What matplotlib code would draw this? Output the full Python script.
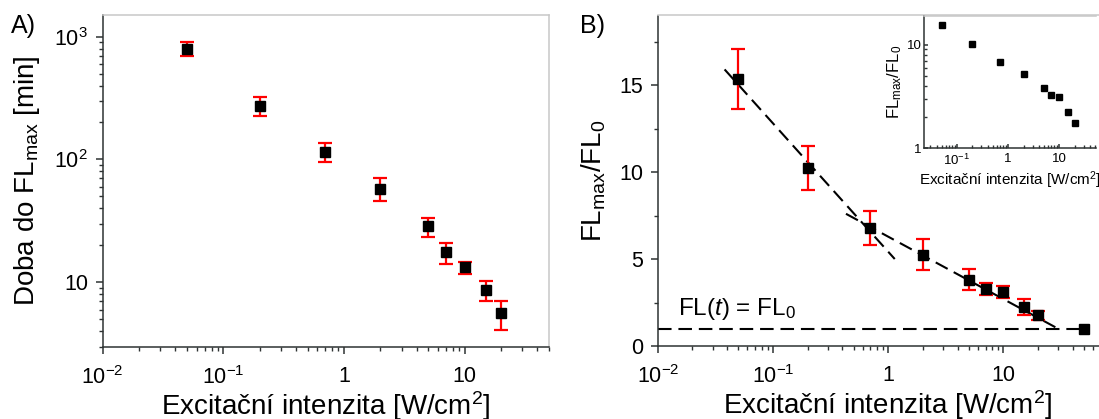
import math

import matplotlib
matplotlib.use("Agg")
import matplotlib.pyplot as plt
from matplotlib.ticker import FuncFormatter, LogLocator, MultipleLocator, NullFormatter

plt.rcParams['font.family'] = ['Liberation Sans', 'DejaVu Sans']
plt.rcParams['mathtext.fontset'] = 'custom'
plt.rcParams['mathtext.rm'] = 'Liberation Sans'
plt.rcParams['mathtext.it'] = 'Liberation Sans:italic'
plt.rcParams['mathtext.bf'] = 'Liberation Sans:bold'

# excitation intensities [W/cm2]
intensity = [0.05, 0.2, 0.7, 2, 5, 7, 10, 15, 20]

# A) time to reach FLmax [min]
t_max = [800, 272, 115, 58, 28.5, 17.5, 13.2, 8.6, 5.6]
t_max_err = [100, 48, 20, 12.5, 5, 3.3, 1.5, 1.6, 1.5]

# B) FLmax / FL0
ratio = [15.35, 10.23, 6.78, 5.25, 3.82, 3.27, 3.1, 2.24, 1.76]
ratio_err = [1.75, 1.25, 1.0, 0.9, 0.62, 0.36, 0.35, 0.47, 0.24]
fl0_x = [50]
fl0_y = [1.0]

# linear fits in log(intensity)
fit_steep_x = [0.038, 1.14]
fit_steep_y = [15.9, 5.0]
fit_flat_x = [0.43, 30.7]
fit_flat_y = [7.6, 0.95]
baseline_x = [0.01, 50]
baseline_y = [1.0, 1.0]

W, H = 1099, 419
fig = plt.figure(figsize=(W / 100, H / 100), dpi=100)


def px_axes(left, top, right, bottom):
    return fig.add_axes([left / W, 1 - bottom / H, (right - left) / W, (bottom - top) / H])


def log_fmt(v, pos):
    e = int(round(math.log10(v)))
    if e == 0:
        return "1"
    if e == 1:
        return "10"
    return r"$10^{%d}$" % e


def style(ax, size=15.5, ticks_in=False, xpad=9, ypad=5.5):
    for s in ("left", "bottom"):
        ax.spines[s].set_color("#2e3333")
        ax.spines[s].set_linewidth(1.1)
    for s in ("top", "right"):
        ax.spines[s].set_color("#c8c8c8")
        ax.spines[s].set_linewidth(1.1)
    d = "in" if ticks_in else "out"
    ax.tick_params(which="both", direction=d, top=False, right=False,
                   color="#2e3333", labelsize=size)
    ax.tick_params(which="major", length=5 if not ticks_in else 3, width=1.1)
    ax.tick_params(which="minor", length=3 if not ticks_in else 2, width=1.0)
    ax.tick_params(axis="x", which="major", pad=xpad)
    ax.tick_params(axis="y", which="major", pad=ypad)


def log_x(ax):
    ax.set_xscale("log")
    ax.xaxis.set_major_locator(LogLocator(base=10, numticks=10))
    ax.xaxis.set_minor_locator(LogLocator(base=10, subs=range(2, 10), numticks=20))
    ax.xaxis.set_major_formatter(FuncFormatter(log_fmt))
    ax.xaxis.set_minor_formatter(NullFormatter())


xlabel = "Excitační intenzita [W/cm$^2$]"
err_kw = dict(fmt="s", color="black", ms=7.2, ecolor="#ff0000", elinewidth=1.6,
              capsize=5.3, capthick=1.6, zorder=3)

# panel A
axA = px_axes(102.7, 15, 549, 346.5)
axA.errorbar(intensity, t_max, yerr=t_max_err, **err_kw)
log_x(axA)
axA.set_yscale("log")
axA.set_xlim(0.01, 50)
axA.set_ylim(3, 1500)
axA.yaxis.set_major_formatter(FuncFormatter(log_fmt))
axA.yaxis.set_minor_formatter(NullFormatter())
style(axA)
axA.set_xlabel(xlabel, fontsize=20, labelpad=0)
axA.set_ylabel(r"Doba do FL$_\mathrm{max}$ [min]", fontsize=20, labelpad=9)
fig.text(10.5 / W, 1 - 14 / H, "A)", fontsize=18, va="top", ha="left")

# panel B
axB = px_axes(657.8, 15.5, 1118.6, 346)
dash = (6.5, 3.3)
axB.plot(baseline_x, baseline_y, color="black", lw=1.5, dashes=dash, zorder=2)
axB.plot(fit_steep_x, fit_steep_y, color="black", lw=1.5, dashes=dash, zorder=2)
axB.plot(fit_flat_x, fit_flat_y, color="black", lw=1.5, dashes=dash, zorder=2)
axB.errorbar(intensity, ratio, yerr=ratio_err, **err_kw)
axB.plot(fl0_x, fl0_y, "s", color="black", ms=7.2, zorder=3)
log_x(axB)
axB.set_xlim(0.01, 100)
axB.set_ylim(0, 19)
axB.yaxis.set_major_locator(MultipleLocator(5))
axB.yaxis.set_minor_locator(MultipleLocator(2.5))
style(axB)
axB.set_xlabel(xlabel, fontsize=20, labelpad=0)
axB.set_ylabel(r"FL$_\mathrm{max}$/FL$_0$", fontsize=20, labelpad=8)
axB.text(0.015, 1.8, r"FL($t$) = FL$_0$", fontsize=17.5, va="baseline", ha="left")
fig.text(580 / W, 1 - 14 / H, "B)", fontsize=18, va="top", ha="left")

# inset: same ratio on log-log axes
axI = px_axes(924.3, 15.7, 1096, 148.5)
axI.plot(intensity, ratio, "s", color="black", ms=4.3)
log_x(axI)
axI.set_yscale("log")
axI.set_xlim(0.023, 52)
axI.set_ylim(1, 19)
axI.yaxis.set_major_formatter(FuncFormatter(log_fmt))
axI.yaxis.set_minor_formatter(NullFormatter())
style(axI, size=9.5, ticks_in=True, xpad=3, ypad=2)
axI.spines["right"].set_visible(False)
axI.set_xlabel(xlabel, fontsize=11, labelpad=1)
axI.set_ylabel(r"FL$_\mathrm{max}$/FL$_0$", fontsize=12, labelpad=2)

fig.savefig("out.png", dpi=100)
